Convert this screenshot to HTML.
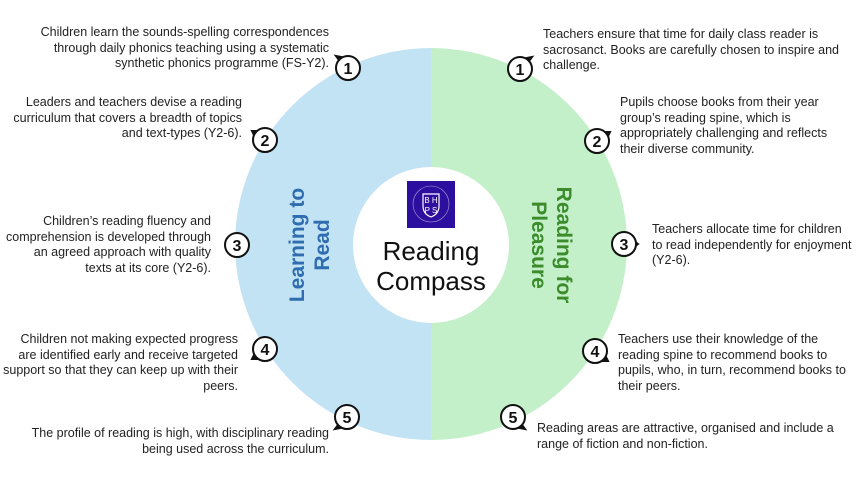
<!DOCTYPE html>
<html><head><meta charset="utf-8"><style>
body{margin:0;width:861px;height:489px;background:#fff;position:relative;overflow:hidden;font-family:"Liberation Sans",sans-serif;}
.t{position:absolute;font-size:12.5px;line-height:15.7px;color:#222;white-space:nowrap;}
.r{text-align:right;}
</style></head><body>
<svg width="861" height="489" style="position:absolute;left:0;top:0">
<path d="M431,48 A196,196 0 0 0 431,440 Z" fill="#c2e3f4"/>
<path d="M431,48 A196,196 0 0 1 431,440 Z" fill="#c3f0c8"/>
<circle cx="431" cy="245" r="78" fill="#fff"/>
<rect x="407" y="181" width="48" height="47" fill="#2c0f9e"/>
<circle cx="431" cy="204" r="18" fill="none" stroke="#fff" stroke-width="0.6" opacity="0.6"/>
<path d="M423,194 h16 v12 q0,8 -8,11 q-8,-3 -8,-11z" fill="none" stroke="#fff" stroke-width="1.2"/>
<text x="431" y="203" fill="#fff" font-size="8" text-anchor="middle" font-family="Liberation Sans">B H</text>
<text x="431" y="213" fill="#fff" font-size="8" text-anchor="middle" font-family="Liberation Sans">P S</text>
<text x="431" y="260" font-size="26" text-anchor="middle" fill="#111" font-family="Liberation Sans">Reading</text>
<text x="431" y="290" font-size="26" text-anchor="middle" fill="#111" font-family="Liberation Sans">Compass</text>
<g font-family="Liberation Sans" font-weight="bold" font-size="21" text-anchor="middle">
<text transform="translate(304,245) rotate(-90)" fill="#2f6db0">Learning to</text>
<text transform="translate(329,245) rotate(-90)" fill="#2f6db0">Read</text>
<text transform="translate(557,245) rotate(90)" fill="#3c8c2c">Reading for</text>
<text transform="translate(532,245) rotate(90)" fill="#3c8c2c">Pleasure</text>
</g>
<g stroke="#111" stroke-width="2" fill="#fff" font-family="Liberation Sans">
<g transform="translate(348,68)"><path d="M-12,-12 l5,1 l-2,3z" fill="#111"/><circle r="12"/></g>
<g transform="translate(265,140)"><path d="M-13,-9 l5,0 l-3,4z" fill="#111"/><circle r="12"/></g>
<g transform="translate(237,245)"><circle r="12"/></g>
<g transform="translate(265,349)"><path d="M-13,10 l5,0 l-3,-4z" fill="#111"/><circle r="12"/></g>
<g transform="translate(347,417)"><path d="M-12,12 l5,-1 l-2,-3z" fill="#111"/><circle r="12"/></g>
<g transform="translate(520,69)"><path d="M12,-12 l-5,1 l2,3z" fill="#111"/><circle r="12"/></g>
<g transform="translate(597,141)"><path d="M13,-9 l-5,0 l3,4z" fill="#111"/><circle r="12"/></g>
<g transform="translate(624,244)"><path d="M14,0 l-4,-3 l0,6z" fill="#111"/><circle r="12"/></g>
<g transform="translate(595,351)"><path d="M13,10 l-5,0 l3,-4z" fill="#111"/><circle r="12"/></g>
<g transform="translate(513,417)"><path d="M12,12 l-5,-1 l2,-3z" fill="#111"/><circle r="12"/></g>
</g>
<g font-family="Liberation Sans" font-size="16" font-weight="bold" text-anchor="middle" fill="#111">
<text x="348" y="74">1</text><text x="265" y="146">2</text><text x="237" y="251">3</text><text x="265" y="355">4</text><text x="347" y="423">5</text>
<text x="520" y="75">1</text><text x="597" y="147">2</text><text x="624" y="250">3</text><text x="595" y="357">4</text><text x="513" y="423">5</text>
</g>
</svg>
<div class="t r" style="right:532px;top:25px">Children learn the sounds-spelling correspondences<br>through daily phonics teaching using a systematic<br>synthetic phonics programme (FS-Y2).</div>
<div class="t r" style="right:619px;top:95px">Leaders and teachers devise a reading<br>curriculum that covers a breadth of topics<br>and text-types (Y2-6).</div>
<div class="t r" style="right:650px;top:214px">Children’s reading fluency and<br>comprehension is developed through<br>an agreed approach with quality<br>texts at its core (Y2-6).</div>
<div class="t r" style="right:623px;top:332px">Children not making expected progress<br>are identified early and receive targeted<br>support so that they can keep up with their<br>peers.</div>
<div class="t r" style="right:532px;top:426px">The profile of reading is high, with disciplinary reading<br>being used across the curriculum.</div>
<div class="t" style="left:543px;top:27px">Teachers ensure that time for daily class reader is<br>sacrosanct. Books are carefully chosen to inspire and<br>challenge.</div>
<div class="t" style="left:620px;top:95px">Pupils choose books from their year<br>group’s reading spine, which is<br>appropriately challenging and reflects<br>their diverse community.</div>
<div class="t" style="left:652px;top:222px">Teachers allocate time for children<br>to read independently for enjoyment<br>(Y2-6).</div>
<div class="t" style="left:618px;top:332px">Teachers use their knowledge of the<br>reading spine to recommend books to<br>pupils, who, in turn, recommend books to<br>their peers.</div>
<div class="t" style="left:537px;top:421px">Reading areas are attractive, organised and include a<br>range of fiction and non-fiction.</div>
</body></html>
